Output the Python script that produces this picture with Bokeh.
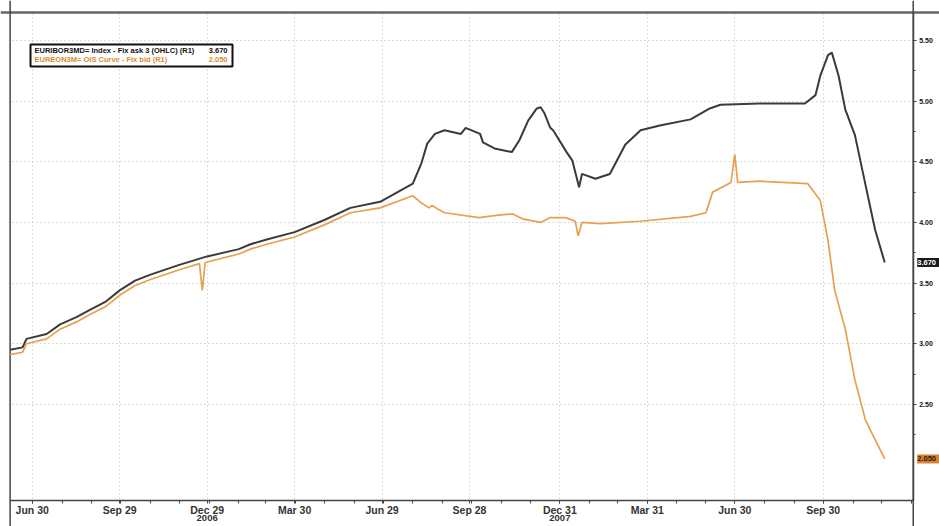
import pandas as pd
from bokeh.plotting import figure
from bokeh.models import FixedTicker, Range1d, Label, BoxAnnotation, Span
from bokeh.embed import file_html
from bokeh.resources import INLINE

# ---------------- data ----------------
black_dates = [
    "2006-06-07", "2006-06-20", "2006-06-24", "2006-07-15", "2006-07-29", "2006-08-15",
    "2006-08-29", "2006-09-15", "2006-09-29", "2006-10-15", "2006-10-31", "2006-11-30",
    "2006-12-29", "2007-01-31", "2007-02-12", "2007-03-01", "2007-03-30", "2007-04-30",
    "2007-05-27", "2007-06-27", "2007-07-31", "2007-08-09", "2007-08-15", "2007-08-23",
    "2007-09-02", "2007-09-19", "2007-09-24", "2007-10-09", "2007-10-12", "2007-10-24",
    "2007-11-11", "2007-11-19", "2007-11-28", "2007-12-07", "2007-12-11", "2007-12-15",
    "2007-12-21", "2007-12-24", "2008-01-07", "2008-01-13", "2008-01-20", "2008-01-23",
    "2008-02-06", "2008-02-21", "2008-03-08", "2008-03-24", "2008-04-13", "2008-05-15",
    "2008-06-04", "2008-06-15", "2008-07-26", "2008-09-11", "2008-09-22", "2008-09-27",
    "2008-10-05", "2008-10-09", "2008-10-16", "2008-10-23", "2008-11-02", "2008-11-13",
    "2008-11-23", "2008-12-03",
]
black_values = [
    2.95, 2.97, 3.04, 3.08, 3.16, 3.22,
    3.28, 3.35, 3.44, 3.52, 3.57, 3.65,
    3.72, 3.78, 3.82, 3.86, 3.92, 4.02,
    4.12, 4.17, 4.32, 4.49, 4.65, 4.73,
    4.76, 4.73, 4.78, 4.73, 4.66, 4.61,
    4.58, 4.68, 4.84, 4.94, 4.95, 4.90,
    4.78, 4.76, 4.58, 4.51, 4.29, 4.40,
    4.36, 4.40, 4.64, 4.76, 4.80, 4.85,
    4.94, 4.97, 4.98, 4.98, 5.05, 5.21,
    5.38, 5.40, 5.21, 4.93, 4.72, 4.31,
    3.94, 3.67,
]

orange_dates = [
    "2006-06-07", "2006-06-20", "2006-06-24", "2006-07-15", "2006-07-29", "2006-08-15",
    "2006-08-29", "2006-09-15", "2006-09-29", "2006-10-15", "2006-10-31", "2006-11-30",
    "2006-12-21", "2006-12-24", "2006-12-27", "2007-01-31", "2007-02-12", "2007-03-01",
    "2007-03-30", "2007-04-30", "2007-05-27", "2007-06-27", "2007-07-31", "2007-08-09",
    "2007-08-17", "2007-08-20", "2007-08-26", "2007-09-02", "2007-10-08", "2007-10-28",
    "2007-11-12", "2007-11-22", "2007-12-11", "2007-12-21", "2008-01-06", "2008-01-16",
    "2008-01-19", "2008-01-23", "2008-02-11", "2008-03-24", "2008-05-15", "2008-05-31",
    "2008-06-07", "2008-06-26", "2008-06-30", "2008-07-03", "2008-07-26", "2008-09-14",
    "2008-09-27", "2008-10-05", "2008-10-12", "2008-10-23", "2008-11-02", "2008-11-13",
    "2008-11-23", "2008-12-03",
]
orange_values = [
    2.91, 2.93, 3.00, 3.04, 3.12, 3.18,
    3.24, 3.31, 3.40, 3.48, 3.53, 3.61,
    3.66, 3.44, 3.67, 3.74, 3.78, 3.82,
    3.88, 3.98, 4.08, 4.12, 4.22, 4.16,
    4.12, 4.14, 4.11, 4.08, 4.04, 4.06,
    4.07, 4.03, 4.00, 4.04, 4.04, 4.01,
    3.89, 4.00, 3.99, 4.01, 4.05, 4.08,
    4.25, 4.33, 4.56, 4.33, 4.34, 4.32,
    4.18, 3.85, 3.44, 3.12, 2.70, 2.37,
    2.21, 2.05,
]

x_tick_dates = ["2006-06-30", "2006-09-29", "2006-12-29", "2007-03-30", "2007-06-29",
                "2007-09-28", "2007-12-31", "2008-03-31", "2008-06-30", "2008-09-30"]
x_tick_labels = ["Jun 30", "Sep 29", "Dec 29", "Mar 30", "Jun 29",
                 "Sep 28", "Dec 31", "Mar 31", "Jun 30", "Sep 30"]
year_dates = ["2006-12-29", "2007-12-31"]
year_labels = ["2006", "2007"]

y_ticks = [2.5, 3.0, 3.5, 4.0, 4.5, 5.0, 5.5]
y_tick_labels = ["2.50", "3.00", "3.50", "4.00", "4.50", "5.00", "5.50"]

series_names = ["EURIBOR3MD= Index - Fix ask 3 (OHLC) (R1)",
                "EUREON3M= OIS Curve - Fix bid (R1)"]

BLACK = "#3a3a3a"
ORANGE = "#E8A04E"
AXIS_COL = "#444444"
FONT = "Liberation Sans"

W, H = 939, 526


def ms(d):
    return pd.Timestamp(d).value / 1e6


# visible window and the boxed plot area inside it
view_x = (ms("2006-05-28"), ms("2009-01-29"))
view_y = (1.493, 5.830)
box_left, box_right = ms("2006-06-07"), ms("2009-01-01 16:00")
box_bottom, box_top = 1.708, 5.731

p = figure(frame_width=W, frame_height=H, x_axis_type="datetime", y_axis_location="right",
           x_range=Range1d(*view_x), y_range=Range1d(*view_y),
           output_backend="svg", toolbar_location=None,
           min_border=0, min_border_left=0, min_border_right=0,
           min_border_top=0, min_border_bottom=0)

p.background_fill_color = "white"
p.border_fill_color = "white"
p.outline_line_color = None

p.line(pd.to_datetime(black_dates), black_values, line_color=BLACK, line_width=2)
p.line(pd.to_datetime(orange_dates), orange_values, line_color=ORANGE, line_width=1.7)

# grids (dotted), masked outside the boxed area
for g in (p.xgrid, p.ygrid):
    g.grid_line_color = "#bbbbbb"
    g.grid_line_dash = "1 3"
    g.grid_line_width = 1

for kw in (dict(right=box_left), dict(left=box_right), dict(bottom=box_top), dict(top=box_bottom)):
    p.add_layout(BoxAnnotation(level="underlay", fill_color="white", fill_alpha=1.0,
                               line_color=None, **kw))

# top rule and the box's side lines (they run down to the page edge)
p.add_layout(Span(location=box_top, dimension="width", level="underlay",
                  line_color="#666666", line_width=2.5))
for loc in (box_left, box_right):
    p.add_layout(Span(location=loc, dimension="height", level="underlay",
                      line_color=AXIS_COL, line_width=1.5))

# x axis at the bottom of the box
minor = [t.value / 1e6 for t in pd.date_range("2006-06-30", "2008-12-31", freq=pd.offsets.MonthEnd())]
xt = [ms(d) for d in x_tick_dates]
p.xaxis.fixed_location = box_bottom
p.xaxis.bounds = (box_left, box_right)
p.xaxis.ticker = FixedTicker(ticks=xt, minor_ticks=minor)
p.xaxis.major_label_overrides = {t: lab for t, lab in zip(xt, x_tick_labels)}
p.xaxis.axis_line_color = AXIS_COL
p.xaxis.axis_line_width = 1.5
p.xaxis.major_tick_line_color = AXIS_COL
p.xaxis.minor_tick_line_color = AXIS_COL
p.xaxis.major_tick_out = 3
p.xaxis.major_tick_in = 0
p.xaxis.minor_tick_out = 3
p.xaxis.minor_tick_in = 0
p.xaxis.major_label_standoff = 1
p.xaxis.major_label_text_font = FONT
p.xaxis.major_label_text_font_size = "10.5px"
p.xaxis.major_label_text_font_style = "bold"
p.xaxis.major_label_text_color = "#333333"

# y axis on the right edge of the box
p.yaxis.fixed_location = box_right
p.yaxis.bounds = (box_bottom, box_top)
p.yaxis.ticker = FixedTicker(ticks=y_ticks, minor_ticks=[v + 0.25 for v in y_ticks[:-1]] + [2.25])
p.yaxis.major_label_overrides = {t: lab for t, lab in zip(y_ticks, y_tick_labels)}
p.yaxis.axis_line_color = AXIS_COL
p.yaxis.axis_line_width = 1.5
p.yaxis.major_tick_line_color = AXIS_COL
p.yaxis.minor_tick_line_color = AXIS_COL
p.yaxis.major_tick_out = 3
p.yaxis.major_tick_in = 0
p.yaxis.minor_tick_out = 2
p.yaxis.minor_tick_in = 0
p.yaxis.major_label_standoff = 3
p.yaxis.major_label_text_font = FONT
p.yaxis.major_label_text_font_size = "7px"
p.yaxis.major_label_text_font_style = "bold"
p.yaxis.major_label_text_color = "#111111"

# year labels under the axis
for d, lab in zip(year_dates, year_labels):
    p.add_layout(Label(x=ms(d), y=box_bottom, y_offset=-15, text=lab, text_align="center",
                       text_baseline="top", text_font=FONT, text_font_size="9.5px",
                       text_font_style="bold", text_color="#333333"))

# legend box
p.add_layout(BoxAnnotation(left=30, right=232, top=H - 44, bottom=H - 66,
                           left_units="screen", right_units="screen",
                           top_units="screen", bottom_units="screen",
                           fill_color="white", fill_alpha=1.0,
                           line_color="#111111", line_width=2, line_alpha=1.0))
legend_rows = [(series_names[0], black_values[-1], "#111111", H - 50),
               (series_names[1], orange_values[-1], "#D98A2E", H - 59)]
for name, val, col, yy in legend_rows:
    p.add_layout(Label(x=34, y=yy, x_units="screen", y_units="screen", text=name,
                       text_baseline="middle", text_font=FONT, text_font_size="7.5px",
                       text_font_style="bold", text_color=col))
    p.add_layout(Label(x=227, y=yy, x_units="screen", y_units="screen", text=f"{val:.3f}",
                       text_align="right", text_baseline="middle", text_font=FONT,
                       text_font_size="7.5px", text_font_style="bold", text_color=col))

# last-value tags on the right axis
for val, bg, fg in [(black_values[-1], "#1a1a1a", "white"),
                    (orange_values[-1], "#D9822B", "#1a1a1a")]:
    p.add_layout(Label(x=box_right, y=val, x_offset=4, text=f" {val:.3f} ",
                       text_baseline="middle", text_font=FONT, text_font_size="7.5px",
                       text_font_style="bold", text_color=fg,
                       background_fill_color=bg, background_fill_alpha=1.0))

open("out.html", "w").write(file_html(p, INLINE))
